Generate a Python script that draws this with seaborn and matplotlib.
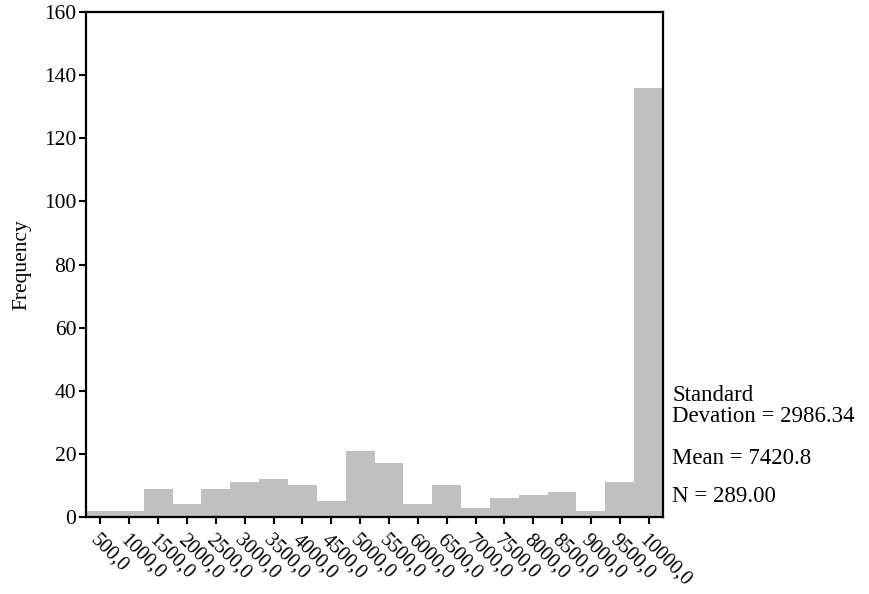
import matplotlib
matplotlib.use('Agg')
import numpy as np
import matplotlib.pyplot as plt
import seaborn as sns

# bin centres and counts
bin_centers = [500, 1000, 1500, 2000, 2500, 3000, 3500, 4000, 4500, 5000,
               5500, 6000, 6500, 7000, 7500, 8000, 8500, 9000, 9500, 10000]
counts = [2, 2, 9, 4, 9, 11, 12, 10, 5, 21, 17, 4, 10, 3, 6, 7, 8, 2, 11, 136]
tick_labels = ["{},0".format(c) for c in bin_centers]
y_ticks = [0, 20, 40, 60, 80, 100, 120, 140, 160]
stats_lines = ["Standard\nDevation = 2986.34", "Mean = 7420.8", "N = 289.00"]

sns.set_theme(style="white")
plt.rcParams['font.family'] = ['Liberation Serif', 'DejaVu Serif']
plt.rcParams['text.color'] = 'black'
plt.rcParams['xtick.color'] = 'black'
plt.rcParams['ytick.color'] = 'black'
plt.rcParams['axes.labelcolor'] = 'black'

fig = plt.figure(figsize=(8.69, 5.94), dpi=100)
ax = fig.add_axes([0.099, 0.1296, 0.664, 0.85])

sns.histplot(x=bin_centers, weights=counts, binwidth=500, binrange=(250, 10250),
             color="#c0c0c0", edgecolor="none", alpha=1, linewidth=0, ax=ax)

ax.set_xlim(250, 10250)
ax.set_ylim(0, 160)
ax.set_yticks(y_ticks)
ax.set_yticklabels([str(t) for t in y_ticks], fontsize=15.5)
ax.set_xticks(bin_centers)
ax.set_xticklabels(tick_labels, rotation=-45, ha='left', va='top',
                   rotation_mode='anchor', fontsize=14.5)
ax.tick_params(axis='both', direction='out', length=5, width=1.5, color='black',
               bottom=True, left=True)
ax.tick_params(axis='y', pad=2)
ax.tick_params(axis='x', pad=5)
for s in ax.spines.values():
    s.set_color('black')
    s.set_linewidth(1.6)
ax.set_xlabel("")
ax.set_ylabel("Frequency", fontsize=15.5, labelpad=9)

fig.text(672/869, 1 - 406/594, stats_lines[0], fontsize=16.5, va='center', ha='left',
         linespacing=1.0)
fig.text(672/869, 1 - 459/594, stats_lines[1], fontsize=16.5, va='center', ha='left')
fig.text(672/869, 1 - 497/594, stats_lines[2], fontsize=16.5, va='center', ha='left')

plt.savefig("out.png", dpi=100)
plt.close()
